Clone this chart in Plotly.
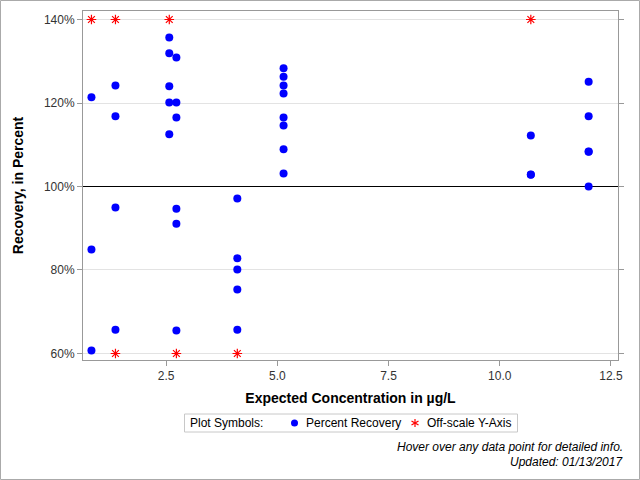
import plotly.graph_objects as go

# Percent recovery data (on-scale)
rec_x = [0.82, 0.82, 0.82,
         1.36, 1.36, 1.36, 1.36,
         2.57, 2.57, 2.57, 2.57, 2.57,
         2.73, 2.73, 2.73, 2.73, 2.73, 2.73,
         4.1, 4.1, 4.1, 4.1, 4.1,
         5.14, 5.14, 5.14, 5.14, 5.14, 5.14, 5.14, 5.14,
         10.7, 10.7, 10.7,
         12.0, 12.0, 12.0, 12.0, 12.0]
rec_y = [121.4, 84.9, 60.7,
         124.2, 116.8, 95.0, 65.7,
         135.7, 131.9, 124.0, 120.1, 112.5,
         130.9, 120.1, 116.5, 94.7, 91.1, 65.5,
         97.1, 82.8, 80.1, 75.3, 65.7,
         128.3, 126.3, 124.2, 122.3, 116.5, 114.6, 108.9, 103.1,
         112.2, 102.8, 102.9,
         125.1, 116.8, 108.4, 108.3, 100.0]

# Off-scale points (drawn at the axis limits)
off_x = [0.82, 1.36, 2.57, 10.7, 1.36, 2.73, 4.1]
off_y = [140, 140, 140, 140, 60, 60, 60]

y_ticks = [60, 80, 100, 120, 140]
y_tick_labels = ["60%", "80%", "100%", "120%", "140%"]
x_ticks = [2.5, 5.0, 7.5, 10.0, 12.5]
x_tick_labels = ["2.5", "5.0", "7.5", "10.0", "12.5"]
x_range = [0.63, 12.66]
y_range = [58.44, 142.04]
reference_level = 100

legend_title = "Plot Symbols:"
series_names = ["Percent Recovery", "Off-scale Y-Axis"]
footnotes = ["Hover over any data point for detailed info.", "Updated: 01/13/2017"]

FONT = "Liberation Sans, Arial, sans-serif"
BLUE, RED = "#0000ff", "#ff0000"
L, R, T, B = 83, 22, 11, 120
W, H = 640, 480
pw, ph = W - L - R, H - T - B


def px(xp):
    return (xp - L) / pw


def py(yp):
    return (T + ph - yp) / ph


fig = go.Figure()
# black reference line at 100% (drawn first so markers sit on top)
fig.add_trace(go.Scatter(
    x=x_range, y=[reference_level, reference_level], mode="lines",
    line=dict(color="black", width=1), showlegend=False, hoverinfo="skip",
))
fig.add_trace(go.Scatter(
    x=rec_x, y=rec_y, mode="markers", name=series_names[0], showlegend=False,
    marker=dict(color=BLUE, size=8, symbol="circle"),
))
fig.add_trace(go.Scatter(
    x=off_x, y=off_y, mode="markers", name=series_names[1], showlegend=False,
    marker=dict(color=RED, size=8, symbol="asterisk-open",
                line=dict(color=RED, width=1.2)),
))

# outer border of the figure
fig.add_shape(type="rect", xref="paper", yref="paper",
              x0=px(0.5), x1=px(W - 0.5), y0=py(H - 0.5), y1=py(0.5),
              line=dict(color="#aaaaaa", width=1))

# manual legend box
LY = 423
fig.add_shape(type="rect", xref="paper", yref="paper",
              x0=px(184.5), x1=px(517.5), y0=py(432), y1=py(414),
              line=dict(color="#c8c8c8", width=1))
fig.add_annotation(text=legend_title, xref="paper", yref="paper",
                   x=px(188), y=py(LY), xanchor="left", yanchor="middle",
                   showarrow=False, font=dict(family=FONT, size=12, color="#000"))
fig.add_shape(type="circle", xref="paper", yref="paper",
              xsizemode="pixel", ysizemode="pixel",
              xanchor=px(294.5), yanchor=py(LY), x0=-3.5, x1=3.5, y0=-3.5, y1=3.5,
              fillcolor=BLUE, line=dict(width=0))
fig.add_annotation(text=series_names[0], xref="paper", yref="paper",
                   x=px(304), y=py(LY), xanchor="left", yanchor="middle",
                   showarrow=False, font=dict(family=FONT, size=12, color="#000"))
for (dx0, dy0, dx1, dy1) in [(0, -4, 0, 4), (-3.5, -2, 3.5, 2), (-3.5, 2, 3.5, -2)]:
    fig.add_shape(type="line", xref="paper", yref="paper",
                  xsizemode="pixel", ysizemode="pixel",
                  xanchor=px(415), yanchor=py(LY), x0=dx0, x1=dx1, y0=dy0, y1=dy1,
                  line=dict(color=RED, width=1.2))
fig.add_annotation(text=series_names[1], xref="paper", yref="paper",
                   x=px(425), y=py(LY), xanchor="left", yanchor="middle",
                   showarrow=False, font=dict(family=FONT, size=12, color="#000"))

for txt, yp in zip(footnotes, [447, 462]):
    fig.add_annotation(text="<i>" + txt + "</i>",
                       xref="paper", yref="paper", x=px(625), y=py(yp),
                       xanchor="right", yanchor="middle", showarrow=False,
                       font=dict(family=FONT, size=12, color="#000"))

fig.update_layout(
    width=W, height=H,
    margin=dict(l=L, r=R, t=T, b=B, pad=0),
    paper_bgcolor="white", plot_bgcolor="white",
    font=dict(family=FONT, size=12, color="#333"),
    showlegend=False,
    xaxis=dict(
        range=x_range, tickvals=x_ticks, ticktext=x_tick_labels,
        showgrid=False, zeroline=False,
        showline=True, linecolor="#999999", linewidth=1, mirror=True,
        ticks="outside", ticklen=5, tickcolor="#999999",
        tickfont=dict(family=FONT, size=12, color="#333"),
        title=dict(text="<b>Expected Concentration in µg/L</b>", standoff=10,
                   font=dict(family=FONT, size=14, color="#000")),
    ),
    yaxis=dict(
        range=y_range, tickvals=y_ticks, ticktext=y_tick_labels,
        showgrid=True, gridcolor="#e3e3e3", gridwidth=1, zeroline=False,
        showline=True, linecolor="#999999", linewidth=1, mirror="ticks",
        ticks="outside", ticklen=5, tickcolor="#999999",
        tickfont=dict(family=FONT, size=12, color="#333"),
        title=dict(text="<b>Recovery, in Percent</b>", standoff=16,
                   font=dict(family=FONT, size=14, color="#000")),
    ),
)

fig.write_html("out.html")
